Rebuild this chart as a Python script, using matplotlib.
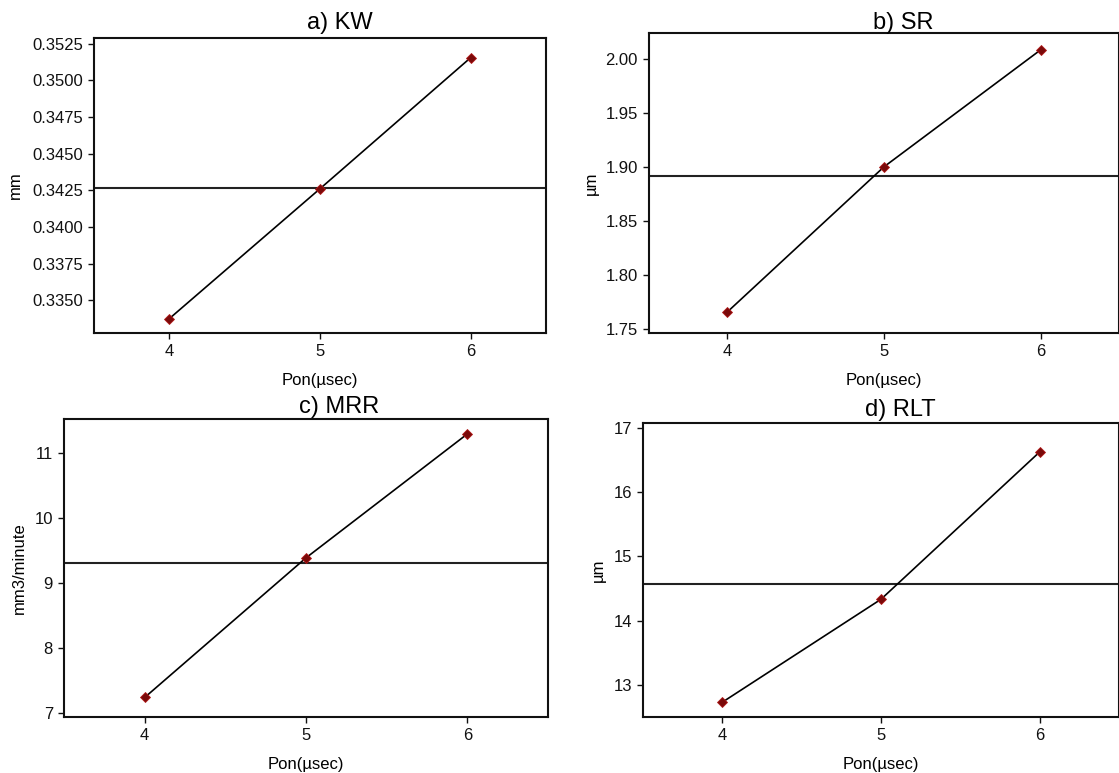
import numpy as np
import matplotlib
matplotlib.use("Agg")
import matplotlib.pyplot as plt

plt.rcParams['font.family'] = ['Liberation Sans', 'DejaVu Sans']

# data
pon = [4, 5, 6]
kw = [0.33375, 0.34261, 0.35155]
sr = [1.7655, 1.900, 2.0084]
mrr = [7.24, 9.386, 11.29]
rlt = [12.73, 14.33, 16.62]

titles = ["a) KW", "b) SR", "c) MRR", "d) RLT"]
ylabels = ["mm", "µm", "mm3/minute", "µm"]
series = [kw, sr, mrr, rlt]

kw_ticks = [0.3350, 0.3375, 0.3400, 0.3425, 0.3450, 0.3475, 0.3500, 0.3525]
sr_ticks = [1.75, 1.80, 1.85, 1.90, 1.95, 2.00]
mrr_ticks = [7, 8, 9, 10, 11]
rlt_ticks = [13, 14, 15, 16, 17]
yticks = [kw_ticks, sr_ticks, mrr_ticks, rlt_ticks]
yfmt = ["{:.4f}", "{:.2f}", "{:d}", "{:d}"]
ylims = [(0.33277, 0.35289), (1.746, 2.024), (6.94, 11.52), (12.50, 17.07)]

W, H = 1119, 773
# axes boxes in pixels: left, right, top, bottom
boxes = [(94, 546, 38, 333), (649, 1119, 33, 333),
         (64, 548, 419, 717), (643, 1119, 423, 717)]
ylab_x = [-0.157, -0.106, -0.077, -0.077]
title_pos = [(0.543, 1.051), (0.54, 1.033), (0.568, 1.040), (0.54, 1.044)]

fig = plt.figure(figsize=(W / 100, H / 100), dpi=100)

for i in range(4):
    l, r, t, b = boxes[i]
    ax = fig.add_axes([l / W, 1 - b / H, (r - l) / W, (b - t) / H])
    vals = series[i]

    ax.plot(pon, vals, color='black', lw=1.2, zorder=2)
    ax.plot(pon, vals, linestyle='none', marker='D', markersize=5.5,
            markerfacecolor='#7a0a0a', markeredgecolor='#b01818',
            markeredgewidth=0.6, zorder=3)
    # mean line
    ax.axhline(np.mean(vals), color='#222222', lw=1.5, zorder=1)

    ax.set_xlim(3.5, 6.5)
    ax.set_ylim(*ylims[i])
    ax.set_xticks(pon)
    ax.set_xticklabels([str(p) for p in pon])
    ax.set_yticks(yticks[i])
    ax.set_yticklabels([yfmt[i].format(v) for v in yticks[i]])
    ax.tick_params(direction='out', length=4.5, width=1, labelsize=12,
                   colors='#111111')

    for sp in ax.spines.values():
        sp.set_linewidth(1.5)
        sp.set_color('#111111')

    ax.set_xlabel("Pon(µsec)", fontsize=12, labelpad=10)
    ax.set_ylabel(ylabels[i], fontsize=12)
    ax.yaxis.set_label_coords(ylab_x[i], 0.5)

    tx, ty = title_pos[i]
    ax.text(tx, ty, titles[i], transform=ax.transAxes, ha='center',
            va='center', fontsize=17)

fig.savefig("out.png", dpi=100)
